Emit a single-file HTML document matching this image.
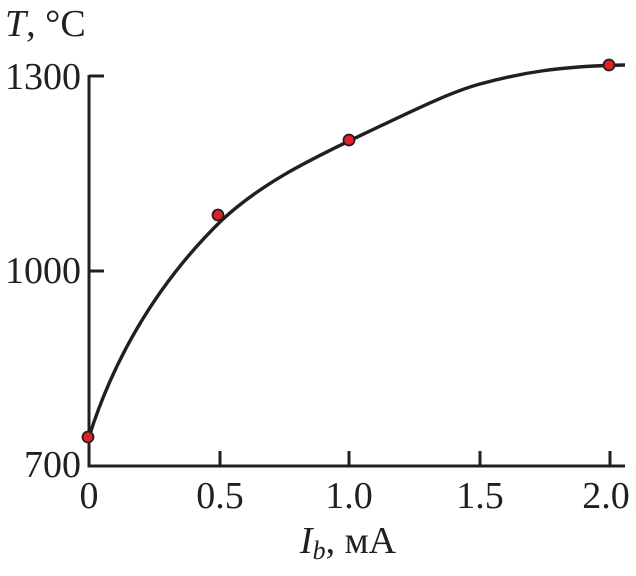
<!DOCTYPE html>
<html><head><meta charset="utf-8"><style>body{margin:0;background:#fff}</style></head><body>
<svg width="636" height="571" xmlns="http://www.w3.org/2000/svg" font-family="Liberation Serif, serif" font-size="38" fill="#231f20">
<g stroke="#231f20" stroke-width="3" fill="none">
<path d="M89,75 V466 H625"/>
<path d="M89,76 H104 M89,271 H104 M220,466 V451 M349,466 V451 M480,466 V451 M610,466 V451"/>
<path d="M89,437 C110,370 150,290 222,220 C262,183 310,160 349,141 C410,112 450,92 480,84 C520,73 560,66 625,65" stroke-width="3.4"/>
</g>
<g fill="#e0202a" stroke="#231f20" stroke-width="1.8">
<circle cx="88" cy="437" r="5.5"/><circle cx="218" cy="215" r="5.5"/><circle cx="349" cy="140" r="5.5"/><circle cx="609" cy="65" r="5.5"/>
</g>
<text x="5" y="36"><tspan font-style="italic">T</tspan>, °C</text>
<text x="81" y="89" text-anchor="end">1300</text>
<text x="81" y="283" text-anchor="end">1000</text>
<text x="81" y="477" text-anchor="end">700</text>
<g text-anchor="middle">
<text x="89" y="508">0</text><text x="220" y="508">0.5</text><text x="349" y="508">1.0</text><text x="480" y="508">1.5</text><text x="606" y="508">2.0</text>
<text x="348" y="553"><tspan font-style="italic">I</tspan><tspan font-style="italic" font-size="26" dy="6">b</tspan><tspan dy="-6">, мА</tspan></text>
</g>
</svg>
</body></html>
